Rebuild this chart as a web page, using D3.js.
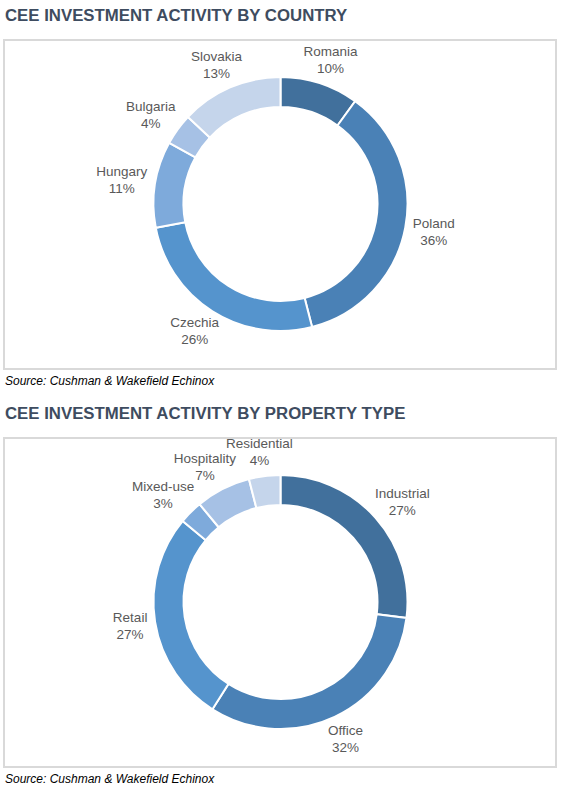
<!DOCTYPE html>
<html>
<head>
<meta charset="utf-8">
<script src="https://cdn.jsdelivr.net/npm/d3@7"></script>
<style>
  body { margin: 0; background: #fff; }
  svg { display: block; }
  .title { font-family: "Liberation Sans", Arial, sans-serif; font-weight: bold; font-size: 16.8px; fill: #3e4c60; }
  .source { font-family: "Liberation Sans", Arial, sans-serif; font-style: italic; font-size: 12px; fill: #000; }
  .label { font-family: "Liberation Sans", Arial, sans-serif; font-size: 13.5px; fill: #595959; }
</style>
</head>
<body>
<div id="chart"></div>
<script>
// chart 1 - by country
const countryCategories = ['Romania', 'Poland', 'Czechia', 'Hungary', 'Bulgaria', 'Slovakia'];
const countryValues = [10, 36, 26, 11, 4, 13];

// chart 2 - by property type
const typeCategories = ['Industrial', 'Office', 'Retail', 'Mixed-use', 'Hospitality', 'Residential'];
const typeValues = [27, 32, 27, 3, 7, 4];

const palette = ['#41709c', '#4a81b6', '#5594cd', '#7eaadb', '#a6c1e5', '#c5d5eb'];

const width = 567, height = 787;
const svg = d3.select('#chart').append('svg')
    .attr('width', width)
    .attr('height', height);

function drawPanel(top, title, categories, values) {
    const g = svg.append('g').attr('transform', `translate(0, ${top})`);

    g.append('text').classed('title', true)
        .attr('x', 5).attr('y', 21)
        .text(title);

    // frame
    g.append('rect')
        .attr('x', 4).attr('y', 40)
        .attr('width', 552).attr('height', 329)
        .attr('fill', 'none')
        .attr('stroke', '#d9d9d9')
        .attr('stroke-width', 2);

    g.append('text').classed('source', true)
        .attr('x', 5).attr('y', 385)
        .text('Source: Cushman & Wakefield Echinox');

    const outer = 127, inner = 97;
    const chart = g.append('g').attr('transform', 'translate(280.5, 204)');

    const data = categories.map((c, i) => [c, values[i]]);
    const color = d3.scaleOrdinal().domain(categories).range(palette);

    const pie = d3.pie().value(d => d[1]).sort(null);
    const arc = d3.arc().innerRadius(inner).outerRadius(outer);
    const arcs = pie(data);

    chart.selectAll('path.slice')
        .data(arcs)
        .join('path')
        .classed('slice', true)
        .attr('d', arc)
        .attr('fill', d => color(d.data[0]))
        .attr('stroke', '#fff')
        .attr('stroke-width', 2);

    // labels placed just outside the ring
    const total = d3.sum(values);
    const labels = chart.selectAll('text.label')
        .data(arcs)
        .join('text')
        .classed('label', true)
        .attr('text-anchor', 'middle');

    labels.append('tspan').attr('x', 0).attr('dy', 0).text(d => d.data[0]);
    labels.append('tspan').attr('x', 0).attr('dy', 17)
        .text(d => Math.round(d.data[1] / total * 100) + '%');

    labels.each(function(d) {
        const a = (d.startAngle + d.endAngle) / 2;
        const s = Math.sin(a), c = -Math.cos(a);
        const box = this.getBBox();
        const r = outer + 8;
        const cx = r * s + s * box.width / 2;
        const cy = r * c + c * box.height / 2;
        // box center relative to text origin
        const bx = box.x + box.width / 2, by = box.y + box.height / 2;
        d3.select(this).attr('transform', `translate(${cx - bx}, ${cy - by})`);
    });
}

drawPanel(0, 'CEE INVESTMENT ACTIVITY BY COUNTRY', countryCategories, countryValues);
drawPanel(398, 'CEE INVESTMENT ACTIVITY BY PROPERTY TYPE', typeCategories, typeValues);
</script>
</body>
</html>
